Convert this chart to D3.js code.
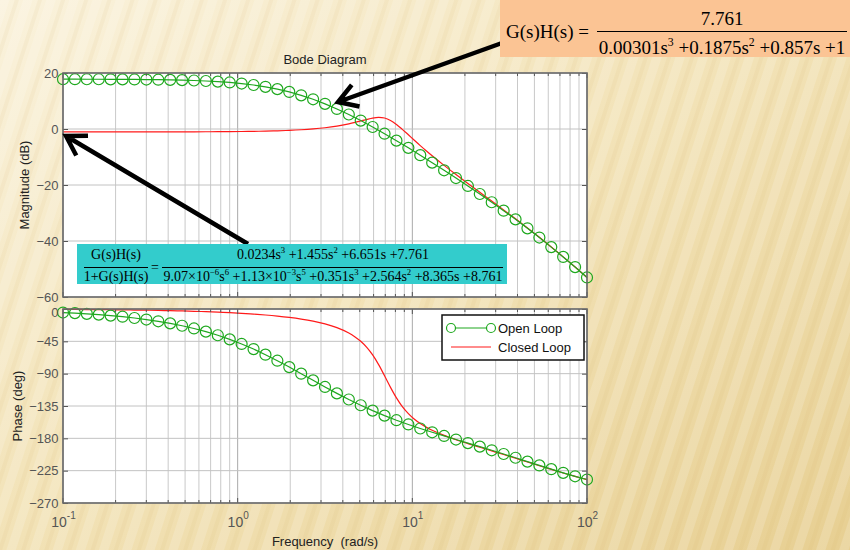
<!DOCTYPE html>
<html>
<head>
<meta charset="utf-8">
<script src="https://cdn.jsdelivr.net/npm/d3@7"></script>
<style>
body { margin: 0; }
svg text { font-family: "Liberation Sans", Arial, sans-serif; }
.eq { font-family: "Liberation Serif", "Times New Roman", serif; }
</style>
</head>
<body>
<svg id="chart" width="850" height="550"></svg>
<script>
// open loop G(s)H(s): frequency (rad/s), magnitude (dB), phase (deg) at the marker points
var olFreq = [0.1, 0.117, 0.1369, 0.1602, 0.1874, 0.2192, 0.2565, 0.3001, 0.3511, 0.4108,
	0.4806, 0.5623, 0.6579, 0.7698, 0.9006, 1.0537, 1.2329, 1.4424, 1.6876, 1.9745,
	2.3101, 2.7028, 3.1623, 3.6999, 4.3288, 5.0647, 5.9256, 6.9329, 8.1115, 9.4903,
	11.103, 12.991, 15.199, 17.783, 20.806, 24.343, 28.481, 33.322, 38.986, 45.614,
	53.368, 62.440, 73.054, 85.472, 100];
var olMag = [17.78, 17.78, 17.77, 17.76, 17.74, 17.72, 17.70, 17.66, 17.61, 17.54,
	17.45, 17.32, 17.15, 16.92, 16.62, 16.23, 15.72, 15.06, 14.24, 13.24,
	12.03, 10.61, 8.99, 7.17, 5.17, 3.01, 0.72, -1.68, -4.16, -6.73,
	-9.35, -12.02, -14.75, -17.52, -20.34, -23.22, -26.16, -29.17, -32.27, -35.47,
	-38.77, -42.18, -45.69, -49.31, -53.02];
var olPhase = [-4.91, -5.74, -6.71, -7.85, -9.18, -10.73, -12.55, -14.66, -17.11, -19.97,
	-23.28, -27.10, -31.50, -36.53, -42.23, -48.64, -55.77, -63.57, -71.97, -80.85,
	-90.02, -99.30, -108.50, -117.43, -125.96, -133.97, -141.43, -148.35, -154.76, -160.71,
	-166.29, -171.58, -176.68, -181.66, -186.60, -191.58, -196.63, -201.79, -207.04, -212.37,
	-217.69, -222.94, -228.02, -232.85, -237.35];

// closed loop
var clFreq = [0.1, 0.117, 0.1369, 0.1602, 0.1874, 0.2192, 0.2565, 0.3001, 0.3511, 0.4108,
	0.4806, 0.5623, 0.6579, 0.7698, 0.9006, 1.0537, 1.2329, 1.4424, 1.6876, 1.9745,
	2.3101, 2.7028, 3.1623, 3.6999, 4.3288, 4.7, 5.0647, 5.5, 5.9256, 6.4,
	6.9329, 7.5, 8.1115, 8.7, 9.4903, 10.2, 11.103, 12.0, 12.991, 15.199,
	17.783, 20.806, 24.343, 28.481, 33.322, 38.986, 45.614, 53.368, 62.440, 73.054,
	85.472, 100];
var clMag = [-1.05, -1.05, -1.05, -1.05, -1.05, -1.05, -1.04, -1.04, -1.04, -1.03,
	-1.02, -1.01, -0.99, -0.97, -0.94, -0.89, -0.83, -0.75, -0.64, -0.48,
	-0.26, 0.04, 0.45, 1.03, 1.83, 2.34, 2.86, 3.44, 3.90, 4.14,
	3.92, 3.06, 1.63, 0.06, -2.07, -3.85, -5.92, -7.75, -9.56, -12.99,
	-16.28, -19.47, -22.61, -25.74, -28.89, -32.08, -35.35, -38.69, -42.13, -45.66,
	-49.29, -53.01];
var clPhase = [-0.56, -0.66, -0.77, -0.90, -1.05, -1.23, -1.44, -1.68, -1.97, -2.31,
	-2.70, -3.17, -3.71, -4.35, -5.11, -6.00, -7.07, -8.34, -9.87, -11.74,
	-14.05, -16.98, -20.79, -25.98, -33.45, -38.82, -44.98, -53.75, -63.94, -77.04,
	-92.91, -109.10, -123.78, -134.78, -145.62, -152.70, -159.40, -164.43, -168.79, -175.93,
	-181.91, -187.30, -192.43, -197.48, -202.55, -207.69, -212.89, -218.10, -223.24, -228.24,
	-232.99, -237.46];

var magTicks = [20, 0, -20, -40, -60];
var phaseTicks = [0, -45, -90, -135, -180, -225, -270];
var freqTicks = [0.1, 1, 10, 100];
var freqExp = ["-1", "0", "1", "2"];
var seriesNames = ["Open Loop", "Closed Loop"];

var plotLeft = 63, plotRight = 587;
var magTop = 73, magBottom = 297;
var phTop = 309, phBottom = 503;
var olColor = "#1ea81e", clColor = "#ff1a1a";
var markerR = 5.5;

var svg = d3.select("#chart");
var defs = svg.append("defs");

// background: cream paper with soft diagonal streaks
var grad = defs.append("linearGradient")
.attr("id", "bgGrad")
.attr("x1", 0).attr("y1", 0).attr("x2", 1).attr("y2", 1);
grad.append("stop").attr("offset", 0).attr("stop-color", "#faf2dc");
grad.append("stop").attr("offset", 0.5).attr("stop-color", "#f2e2b6");
grad.append("stop").attr("offset", 1).attr("stop-color", "#e7cf92");
var stripes = defs.append("pattern")
.attr("id", "stripes")
.attr("patternUnits", "userSpaceOnUse")
.attr("width", 22).attr("height", 22)
.attr("patternTransform", "rotate(18)");
stripes.append("rect")
.attr("width", 9).attr("height", 22)
.attr("fill", "#ffffff").attr("opacity", 0.16);
stripes.append("rect")
.attr("x", 14).attr("width", 4).attr("height", 22)
.attr("fill", "#c9a854").attr("opacity", 0.08);

svg.append("rect").attr("width", 850).attr("height", 550).attr("fill", "url(#bgGrad)");
svg.append("rect").attr("width", 850).attr("height", 550).attr("fill", "url(#stripes)");

var x = d3.scaleLog().domain([0.1, 100]).range([plotLeft, plotRight]);
var yMag = d3.scaleLinear().domain([-60, 20]).range([magBottom, magTop]);
var yPh = d3.scaleLinear().domain([-270, 0]).range([phBottom, phTop]);

function isMajor(d) {
	return Math.abs(Math.log10(d) - Math.round(Math.log10(d))) < 1e-6;
}

function drawFrame(yScale, yTicks, top, bottom) {

	var g = svg.append("g");
	g.append("rect")
	.attr("x", plotLeft)
	.attr("y", top)
	.attr("width", plotRight - plotLeft)
	.attr("height", bottom - top)
	.attr("fill", "#fff");

	g.selectAll("line.vgrid")
	.data(x.ticks())
	.enter().append("line")
	.attr("class", "vgrid")
	.attr("x1", function(d) { return x(d); })
	.attr("x2", function(d) { return x(d); })
	.attr("y1", top)
	.attr("y2", bottom)
	.attr("stroke", function(d) { return isMajor(d) ? "#a9a9a9" : "#c9c9c9"; })
	.attr("stroke-width", 1);

	g.selectAll("line.hgrid")
	.data(yTicks)
	.enter().append("line")
	.attr("class", "hgrid")
	.attr("x1", plotLeft)
	.attr("x2", plotRight)
	.attr("y1", function(d) { return yScale(d); })
	.attr("y2", function(d) { return yScale(d); })
	.attr("stroke", "#c2c2c2");

	return g;
}

function drawAxes(yScale, yTicks, top, bottom) {

	var g = svg.append("g");
	// minor and major frequency ticks, top and bottom, pointing inside
	g.selectAll("line.xt")
	.data(x.ticks())
	.enter().append("line")
	.attr("x1", function(d) { return x(d); })
	.attr("x2", function(d) { return x(d); })
	.attr("y1", bottom)
	.attr("y2", function(d) { return bottom - (isMajor(d) ? 5 : 3); })
	.attr("stroke", "#555");
	g.selectAll("line.xt2")
	.data(x.ticks())
	.enter().append("line")
	.attr("x1", function(d) { return x(d); })
	.attr("x2", function(d) { return x(d); })
	.attr("y1", top)
	.attr("y2", function(d) { return top + (isMajor(d) ? 5 : 3); })
	.attr("stroke", "#555");

	var left = g.append("g")
	.attr("transform", "translate(" + plotLeft + ",0)")
	.call(d3.axisLeft(yScale).tickValues(yTicks).tickSizeInner(-5).tickSizeOuter(0).tickPadding(4.5));
	left.select(".domain").remove();
	left.selectAll(".tick line").attr("stroke", "#555");
	left.selectAll(".tick text")
	.attr("fill", "#555")
	.attr("font-size", 13)
	.attr("font-family", "Liberation Sans, Arial, sans-serif");

	var right = g.append("g")
	.attr("transform", "translate(" + plotRight + ",0)")
	.call(d3.axisRight(yScale).tickValues(yTicks).tickSizeInner(-5).tickSizeOuter(0).tickFormat(""));
	right.select(".domain").remove();
	right.selectAll(".tick line").attr("stroke", "#555");

	g.append("rect")
	.attr("x", plotLeft)
	.attr("y", top)
	.attr("width", plotRight - plotLeft)
	.attr("height", bottom - top)
	.attr("fill", "none")
	.attr("stroke", "#6a6a6a")
	.attr("stroke-width", 1.6);

	return g;
}

function drawSeries(freqs, vals, yScale, color, markers, curve) {

	var pts = freqs.map(function(f, i) { return [f, vals[i]]; });
	var line = d3.line()
	.x(function(d) { return x(d[0]); })
	.y(function(d) { return yScale(d[1]); })
	.curve(curve);
	svg.append("path")
	.datum(pts)
	.attr("d", line)
	.attr("fill", "none")
	.attr("stroke", color)
	.attr("stroke-width", 1.2);
	if (markers) {
		svg.append("g").selectAll("circle")
		.data(pts)
		.enter().append("circle")
		.attr("cx", function(d) { return x(d[0]); })
		.attr("cy", function(d) { return yScale(d[1]); })
		.attr("r", markerR)
		.attr("fill", "none")
		.attr("stroke", color)
		.attr("stroke-width", 1.2);
	}
}

// magnitude plot
drawFrame(yMag, magTicks, magTop, magBottom);
drawSeries(clFreq, clMag, yMag, clColor, false, d3.curveCatmullRom.alpha(0.5));
drawSeries(olFreq, olMag, yMag, olColor, true, d3.curveLinear);
drawAxes(yMag, magTicks, magTop, magBottom);

// phase plot
drawFrame(yPh, phaseTicks, phTop, phBottom);
drawSeries(clFreq, clPhase, yPh, clColor, false, d3.curveCatmullRom.alpha(0.5));
drawSeries(olFreq, olPhase, yPh, olColor, true, d3.curveLinear);
var phAxes = drawAxes(yPh, phaseTicks, phTop, phBottom);
// the "0" of the phase axis sits just under the "-60" of the magnitude axis
phAxes.selectAll(".tick text").filter(function(d) { return d === 0; }).attr("dy", "0.55em");

// frequency labels 10^n
var xAxis = svg.append("g")
.attr("transform", "translate(0," + phBottom + ")")
.call(d3.axisBottom(x).tickValues(freqTicks).tickSize(0).tickFormat(""));
xAxis.select(".domain").remove();
xAxis.selectAll(".tick text").each(function(d, i) {
	var t = d3.select(this)
	.attr("y", 24)
	.attr("dy", 0)
	.attr("fill", "#555")
	.attr("font-size", 14)
	.attr("font-family", "Liberation Sans, Arial, sans-serif");
	t.append("tspan").text("10");
	t.append("tspan").attr("dy", -8).attr("font-size", 10).text(freqExp[i]);
});

// titles
svg.append("text")
.attr("x", (plotLeft + plotRight) / 2)
.attr("y", 64)
.attr("text-anchor", "middle")
.attr("font-size", 13)
.attr("fill", "#222")
.text("Bode Diagram");
svg.append("text")
.attr("transform", "translate(29," + (magTop + magBottom) / 2 + ") rotate(-90)")
.attr("text-anchor", "middle")
.attr("font-size", 13)
.attr("fill", "#222")
.text("Magnitude (dB)");
svg.append("text")
.attr("transform", "translate(22," + (phTop + phBottom) / 2 + ") rotate(-90)")
.attr("text-anchor", "middle")
.attr("font-size", 13)
.attr("fill", "#222")
.text("Phase (deg)");
svg.append("text")
.attr("x", (plotLeft + plotRight) / 2)
.attr("y", 546)
.attr("text-anchor", "middle")
.attr("font-size", 13)
.attr("fill", "#222")
.style("white-space", "pre")
.text("Frequency  (rad/s)");

// legend
var legend = svg.append("g").attr("transform", "translate(442,315)");
legend.append("rect")
.attr("width", 142)
.attr("height", 45)
.attr("fill", "#fff")
.attr("stroke", "#111")
.attr("stroke-width", 1.5);
legend.selectAll("line.item")
.data(seriesNames)
.enter().append("line")
.attr("x1", 9).attr("x2", 49)
.attr("y1", function(d, i) { return 13 + i * 19; })
.attr("y2", function(d, i) { return 13 + i * 19; })
.attr("stroke", function(d, i) { return i == 0 ? olColor : clColor; })
.attr("stroke-width", 1.2);
legend.selectAll("circle")
.data([9, 49])
.enter().append("circle")
.attr("cx", function(d) { return d; })
.attr("cy", 13)
.attr("r", 4.5)
.attr("fill", "#fff")
.attr("stroke", olColor)
.attr("stroke-width", 1.2);
legend.selectAll("text")
.data(seriesNames)
.enter().append("text")
.attr("x", 56)
.attr("y", function(d, i) { return 18 + i * 19; })
.attr("font-size", 13)
.attr("fill", "#111")
.text(function(d) { return d; });

// arrows
function arrow(x0, y0, x1, y1) {
	var a = Math.atan2(y0 - y1, x0 - x1);
	var len = 22, spread = 0.55;
	var p1 = [x1 + len * Math.cos(a - spread), y1 + len * Math.sin(a - spread)];
	var p2 = [x1 + len * Math.cos(a + spread), y1 + len * Math.sin(a + spread)];
	svg.append("path")
	.attr("d", "M" + [x0, y0] + "L" + [x1, y1] + "M" + p1 + "L" + [x1, y1] + "L" + p2)
	.attr("fill", "none")
	.attr("stroke", "#000")
	.attr("stroke-width", 4.5)
	.attr("stroke-linejoin", "miter");
}
arrow(502, 43, 338, 102);
arrow(248, 244, 66, 136);

// equations
function mathText(parent, x0, y0, size, anchor, parts) {
	var t = parent.append("text")
	.attr("class", "eq")
	.attr("x", x0)
	.attr("y", y0)
	.attr("font-size", size)
	.attr("text-anchor", anchor)
	.attr("fill", "#000");
	var up = false;
	parts.forEach(function(p) {
		var sup = p.charAt(0) == "^";
		var s = t.append("tspan").text(sup ? p.slice(1) : p);
		if (sup) {
			s.attr("font-size", size * 0.62);
			if (!up) s.attr("dy", -size * 0.42);
			up = true;
		} else if (up) {
			s.attr("dy", size * 0.42);
			up = false;
		}
	});
	return t;
}

var eqTop = svg.append("g");
eqTop.append("rect")
.attr("x", 500).attr("y", 0)
.attr("width", 350).attr("height", 57)
.attr("fill", "#fbc494");
mathText(eqTop, 506, 38, 19, "start", ["G(s)H(s) ="]);
eqTop.append("line")
.attr("x1", 597).attr("x2", 847)
.attr("y1", 31.5).attr("y2", 31.5)
.attr("stroke", "#000").attr("stroke-width", 1.2);
mathText(eqTop, 722, 25, 19, "middle", ["7.761"]);
mathText(eqTop, 722, 54, 19, "middle",
	["0.00301s", "^3", " +0.1875s", "^2", " +0.857s +1"]);

var eqCl = svg.append("g");
eqCl.append("rect")
.attr("x", 77).attr("y", 244)
.attr("width", 430).attr("height", 40)
.attr("fill", "#33cccc");
mathText(eqCl, 116, 259, 14, "middle", ["G(s)H(s)"]);
mathText(eqCl, 116, 280.5, 14, "middle", ["1+G(s)H(s)"]);
eqCl.append("line")
.attr("x1", 84).attr("x2", 148)
.attr("y1", 267.5).attr("y2", 267.5)
.attr("stroke", "#000").attr("stroke-width", 1);
mathText(eqCl, 155, 272, 14, "middle", ["="]);
eqCl.append("line")
.attr("x1", 162).attr("x2", 503)
.attr("y1", 267.5).attr("y2", 267.5)
.attr("stroke", "#000").attr("stroke-width", 1);
mathText(eqCl, 333, 259, 14, "middle",
	["0.0234s", "^3", " +1.455s", "^2", " +6.651s +7.761"]);
mathText(eqCl, 333, 280.5, 14, "middle",
	["9.07×10", "^−6", "s", "^6", " +1.13×10", "^−3", "s", "^5", " +0.351s", "^3",
	 " +2.564s", "^2", " +8.365s +8.761"]);
</script>
</body>
</html>
